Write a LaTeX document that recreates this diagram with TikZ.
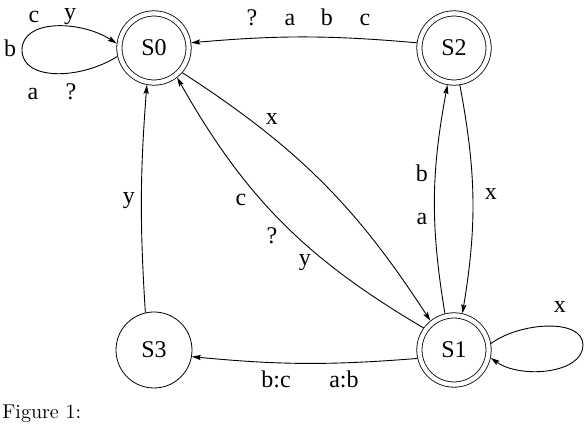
\documentclass[tikz,border=0pt]{standalone}
\usepackage{fontspec}
\newfontfamily\figfont{Liberation Serif}
\usetikzlibrary{arrows.meta, positioning}
\tikzset{
  plainstate/.style={circle, draw, minimum size=38pt, inner sep=0pt, font=\figfont\fontsize{12}{14}\selectfont},
  finalstate/.style={plainstate, double, double distance=2.2pt, minimum size=34.6pt, outer sep=1.5pt},
  arrow/.style={-{Stealth[length=4.5pt, width=2.6pt, inset=0.8pt]}, line width=0.45pt},
  lbl/.style={anchor=base, inner sep=0pt, font=\figfont\fontsize{12}{14}\selectfont},
}

\begin{document}
\begin{tikzpicture}[x=0.5pt, y=0.5pt, node distance=151pt and 150pt, on grid]
  \useasboundingbox (0,0) rectangle (586,424);
  \clip (0,0) rectangle (586,424);

  % ---- States ----
  \node (s0) [finalstate] at (154,376) {S0};
  \node (s2) [finalstate, right=of s0] {S2};
  \node (s3) [plainstate, below=of s0] {S3};
  \node (s1) [finalstate, right=of s3] {S1};

  % ---- Self loops ----
  \draw [arrow] (s0.193) .. controls (80,344) and (22,343) .. (22,374)
                .. controls (22,405) and (80,404) .. (s0.173);
  \draw [arrow] (s1.10) .. controls (520,102) and (583,106) .. (583,79)
                .. controls (583,50) and (520,45) .. (s1.-12);

  % ---- Transitions ----
  \draw [arrow] (s2.172) to [bend right=5] (s0.8);
  \draw [arrow] (s0.-41) to [bend left=12] (s1.129);
  \draw [arrow] (s1.144) to [bend left=15] (s0.-52);
  \draw [arrow] (s3.103) to [bend left=4] (s0.259);
  \draw [arrow] (s1.104) to [bend left=10] (s2.260);
  \draw [arrow] (s2.-81) to [bend left=10] (s1.77);
  \draw [arrow] (s1.193) to [bend left=5] (s3.-10);

  % ---- Labels: loop on S0 ----
  \node (l0c) [lbl] at (34,401) {c};
  \node (l0y) [lbl] at (70,404) {y};
  \node (l0b) [lbl] at (10,367) {b};
  \node (l0a) [lbl] at (33,324) {a};
  \node (l0q) [lbl] at (71,324) {?};

  % ---- Labels: S2 to S0 ----
  \node (l20q) [lbl] at (252,398) {?};
  \node (l20a) [lbl] at (290,398) {a};
  \node (l20b) [lbl] at (327,398) {b};
  \node (l20c) [lbl] at (365,398) {c};

  % ---- Labels: S0 / S1 ----
  \node (l01x) [lbl] at (272,299) {x};
  \node (l10c) [lbl] at (241,218) {c};
  \node (l10q) [lbl] at (272,180) {?};
  \node (l10y) [lbl] at (305,158) {y};

  % ---- Labels: S3 to S0 ----
  \node (l30y) [lbl] at (129,220) {y};

  % ---- Labels: S1 / S2 ----
  \node (l12b) [lbl] at (422,242) {b};
  \node (l12a) [lbl] at (422,199) {a};
  \node (l21x) [lbl] at (491,224) {x};

  % ---- Labels: loop on S1, S1 to S3 ----
  \node (l1x) [lbl] at (560,111) {x};
  \node (l13bc) [lbl] at (276,36) {b:c};
  \node (l13ab) [lbl] at (344,36) {a:b};

  % ---- Caption ----
  \node (caption) [anchor=base west, inner sep=0pt, font=\fontsize{10}{12}\selectfont] at (2,5) {Figure 1:};

\end{tikzpicture}
\end{document}
